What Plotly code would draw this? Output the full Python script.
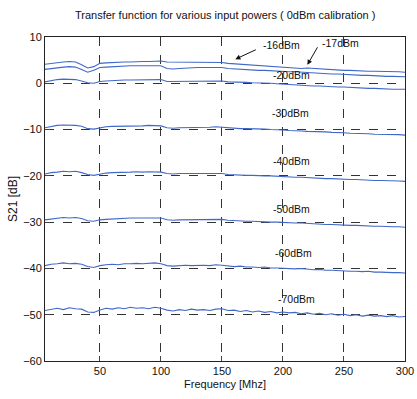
import plotly.graph_objects as go

freq = list(range(5, 301, 5))

p_m16 = [4.1, 4.3, 4.5, 4.6, 4.7, 4.6, 4.0, 3.3, 3.6, 4.3,
         4.4, 4.5, 4.5, 4.6, 4.6, 4.7, 4.7, 4.7, 4.8, 4.8,
         4.6, 4.6, 4.6, 4.6, 4.6, 4.6, 4.6, 4.6, 4.6, 4.5,
         4.3, 4.2, 4.1, 4.0, 3.9, 3.8, 3.7, 3.6, 3.5, 3.4,
         3.3, 3.3, 3.2, 3.3, 3.2, 3.1, 3.0, 3.0, 2.9, 2.8,
         2.8, 2.7, 2.7, 2.6, 2.6, 2.6, 2.5, 2.5, 2.5, 2.4]
p_m17 = [3.0, 3.2, 3.4, 3.5, 3.6, 3.5, 3.0, 2.4, 2.8, 3.4,
         3.5, 3.6, 3.7, 3.7, 3.8, 3.8, 3.8, 3.8, 3.8, 3.8,
         3.2, 3.1, 3.2, 3.3, 3.3, 3.4, 3.4, 3.4, 3.4, 3.4,
         3.2, 3.1, 3.0, 2.9, 2.9, 2.8, 2.8, 2.7, 2.7, 2.6,
         2.5, 2.5, 2.4, 2.3, 2.2, 2.2, 2.1, 2.0, 2.0, 1.9,
         1.8, 1.8, 1.7, 1.7, 1.6, 1.6, 1.5, 1.5, 1.5, 1.4]
p_m20 = [0.3, 0.6, 0.8, 0.9, 0.9, 0.8, 0.5, 0.1, 0.0, 0.4,
         0.5, 0.6, 0.6, 0.7, 0.7, 0.7, 0.8, 0.8, 0.8, 0.8,
         0.4, 0.4, 0.5, 0.5, 0.5, 0.5, 0.5, 0.5, 0.5, 0.5,
         0.3, 0.3, 0.2, 0.2, 0.1, 0.1, 0.0, 0.0, -0.1, -0.2,
         -0.3, -0.4, -0.5, -0.5, -0.6, -0.6, -0.7, -0.7, -0.8, -0.8,
         -0.9, -1.0, -1.0, -1.1, -1.1, -1.2, -1.2, -1.3, -1.3, -1.3]
p_m30 = [-9.6, -9.3, -9.1, -9.0, -9.0, -9.1, -9.3, -9.8, -9.9, -9.6,
         -9.4, -9.3, -9.3, -9.2, -9.2, -9.2, -9.2, -9.1, -9.1, -9.2,
         -9.6, -9.7, -9.6, -9.6, -9.5, -9.5, -9.5, -9.5, -9.4, -9.5,
         -9.6, -9.8, -9.8, -9.8, -9.8, -9.9, -9.9, -10.0, -10.0, -10.1,
         -10.2, -10.2, -10.3, -10.4, -10.4, -10.5, -10.5, -10.6, -10.6, -10.7,
         -10.8, -10.8, -10.9, -10.9, -11.0, -11.0, -11.1, -11.1, -11.1, -11.2]
p_m40 = [-19.6, -19.3, -19.2, -19.0, -19.1, -19.0, -19.3, -19.7, -19.9, -19.6,
         -19.4, -19.3, -19.3, -19.2, -19.2, -19.1, -19.2, -19.1, -19.1, -19.2,
         -19.5, -19.6, -19.5, -19.5, -19.5, -19.4, -19.5, -19.5, -19.4, -19.5,
         -19.7, -19.8, -19.8, -19.9, -19.9, -20.0, -20.0, -20.0, -20.1, -20.2,
         -20.2, -20.3, -20.3, -20.4, -20.5, -20.5, -20.6, -20.6, -20.7, -20.7,
         -20.8, -20.8, -20.9, -20.9, -21.0, -21.0, -21.0, -21.1, -21.1, -21.2]
p_m50 = [-29.5, -29.3, -29.1, -29.0, -29.1, -29.0, -29.2, -29.7, -29.8, -29.5,
         -29.4, -29.3, -29.2, -29.2, -29.1, -29.1, -29.1, -29.0, -29.1, -29.1,
         -29.5, -29.6, -29.5, -29.5, -29.4, -29.4, -29.5, -29.4, -29.4, -29.4,
         -29.6, -29.7, -29.7, -29.8, -29.8, -29.9, -29.9, -30.0, -30.0, -30.1,
         -30.1, -30.2, -30.2, -30.3, -30.4, -30.4, -30.5, -30.5, -30.6, -30.6,
         -30.7, -30.7, -30.8, -30.8, -30.9, -30.9, -31.0, -31.0, -31.0, -31.1]
p_m60 = [-39.4, -39.1, -39.0, -38.8, -39.0, -38.9, -39.1, -39.6, -39.8, -39.4,
         -39.2, -39.1, -39.2, -39.0, -39.0, -38.9, -39.0, -38.9, -38.8, -39.0,
         -39.4, -39.5, -39.4, -39.3, -39.4, -39.3, -39.3, -39.4, -39.2, -39.3,
         -39.5, -39.6, -39.5, -39.7, -39.7, -39.8, -39.7, -39.9, -39.9, -40.0,
         -40.0, -40.1, -40.0, -40.2, -40.3, -40.2, -40.4, -40.4, -40.5, -40.5,
         -40.6, -40.6, -40.7, -40.6, -40.8, -40.8, -40.9, -40.9, -40.9, -41.0]
p_m70 = [-49.1, -48.8, -48.6, -48.9, -48.5, -48.7, -48.8, -49.4, -49.5, -49.0,
         -48.6, -48.8, -48.5, -48.7, -48.4, -48.6, -48.5, -48.7, -48.4, -48.6,
         -49.0, -49.2, -48.9, -49.1, -48.8, -49.0, -48.9, -49.1, -48.8, -48.7,
         -49.1, -49.0, -49.3, -49.1, -49.4, -49.2, -49.5, -49.3, -49.6, -49.4,
         -49.6, -49.5, -49.8, -49.6, -49.9, -49.7, -50.0, -49.8, -50.1, -49.9,
         -50.2, -50.0, -50.3, -50.1, -50.3, -50.2, -50.4, -50.2, -50.5, -50.4]

series = [p_m16, p_m17, p_m20, p_m30, p_m40, p_m50, p_m60, p_m70]

label_text = ["-16dBm", "-17dBm", "-20dBm", "-30dBm", "-40dBm", "-50dBm", "-60dBm", "-70dBm"]
label_x = [199, 247, 207, 206, 207, 207, 209, 211]
label_y = [8.3, 8.7, 1.8, -6.4, -16.8, -27.1, -36.7, -46.6]

arrow_head_x = [161, 220]
arrow_head_y = [5.2, 4.0]
arrow_tail_x = [179, 229]
arrow_tail_y = [7.4, 8.1]

x_ticks = [50, 100, 150, 200, 250, 300]
y_ticks = [-60, -50, -40, -30, -20, -10, 0, 10]

line_color = "#4068c8"
font_family = "Liberation Sans, Arial, sans-serif"

fig = go.Figure()
for s in series:
    fig.add_trace(go.Scatter(x=freq, y=s, mode="lines",
                             line=dict(color=line_color, width=1.1),
                             showlegend=False, hoverinfo="skip"))

annotations = []
for t, x, y in zip(label_text, label_x, label_y):
    annotations.append(dict(x=x, y=y, xref="x", yref="y", text=t, showarrow=False,
                            font=dict(family=font_family, size=10.5, color="#111")))
for hx, hy, tx, ty in zip(arrow_head_x, arrow_head_y, arrow_tail_x, arrow_tail_y):
    annotations.append(dict(x=hx, y=hy, ax=tx, ay=ty, xref="x", yref="y",
                            axref="x", ayref="y", text="", showarrow=True,
                            arrowhead=2, arrowsize=1, arrowwidth=1, arrowcolor="#111"))

fig.update_layout(
    width=417, height=399,
    margin=dict(l=45, r=12, t=37, b=38),
    paper_bgcolor="white", plot_bgcolor="white",
    font=dict(family=font_family, size=11, color="#111"),
    title=dict(text="Transfer function for various input powers ( 0dBm calibration )",
               x=0.54, xanchor="center", y=0.962, yanchor="middle",
               font=dict(family=font_family, size=11, color="#111")),
    annotations=annotations,
)
fig.update_xaxes(range=[5, 300], tickvals=x_ticks, ticks="inside", ticklen=5,
                 showline=True, linecolor="#222", linewidth=1, mirror=True,
                 showgrid=True, gridcolor="#333", gridwidth=1, griddash="dash",
                 zeroline=False, automargin=False,
                 title=dict(text="Frequency [Mhz]", standoff=4,
                            font=dict(family=font_family, size=11)))
fig.update_yaxes(range=[-60, 10], tickvals=y_ticks, ticks="inside", ticklen=5,
                 showline=True, linecolor="#222", linewidth=1, mirror=True,
                 showgrid=True, gridcolor="#333", gridwidth=1, griddash="dash",
                 zeroline=False, automargin=False,
                 title=dict(text="S21 [dB]", standoff=2,
                            font=dict(family=font_family, size=12)))

fig.write_html("out.html")
